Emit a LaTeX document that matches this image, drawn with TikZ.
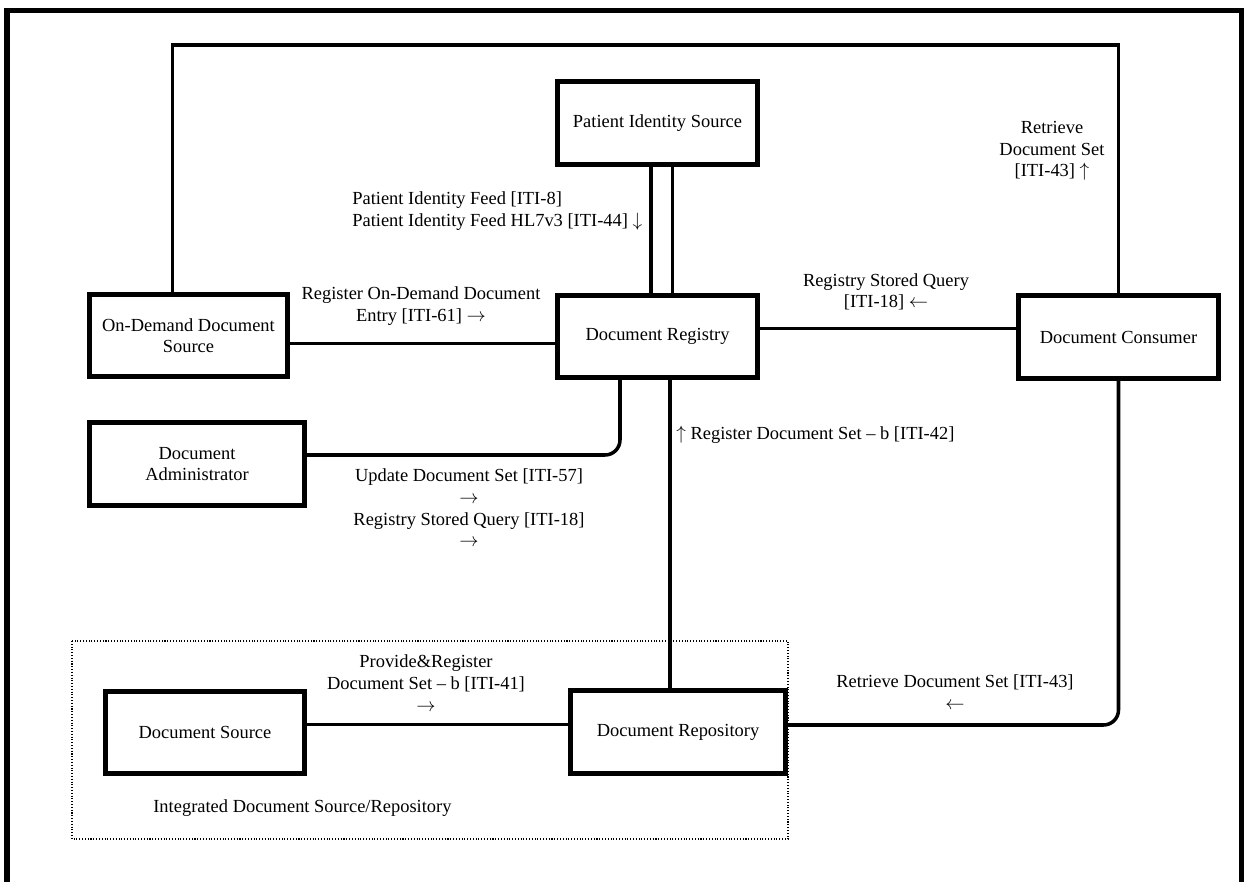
\documentclass[tikz,border=0pt]{standalone}
\usepackage{fontspec}
\setmainfont{Liberation Serif}
\begin{document}
\begin{tikzpicture}[x=0.02cm,y=-0.02cm,
  font=\fontsize{10.5}{12.3}\selectfont,
  actor/.style={draw,line width=2.85pt,minimum height=1.65cm,align=center,inner sep=0pt},
  link/.style={line width=2pt},
  lbl/.style={inner sep=0pt,align=center}]
\useasboundingbox (0,0) rectangle (1249,882);
\draw [line width=3pt] (7,882) -- (7,10.5) -- (1241.5,10.5) -- (1241.5,882); % frame
\draw [densely dotted,line width=0.6pt] (72,641) rectangle (788,839); % integrated

\node [actor,minimum width=4cm]    (pis)  at (657.5,123)   {Patient Identity Source};
\node [actor,minimum width=3.96cm] (ods)  at (188.5,335.5) {On-Demand Document\\Source};
\node [actor,minimum width=4cm]    (reg)  at (657.5,336.5) {Document Registry};
\node [actor,minimum width=4cm]    (cons) at (1118.5,337)  {Document Consumer};
\node [actor,minimum width=4.3cm]  (adm)  at (197,464)     {Document\\Administrator};
\node [actor,minimum width=3.98cm] (src)  at (205,732.5)   {Document Source};
\node [actor,minimum width=4.3cm]  (repo) at (678,732)     {Document Repository};

\draw [link] (ods.north -| 172.5,0) -- (172.5,45) -| (cons.north);
\draw [link] (pis.south -| 651,0) -- (reg.north -| 651,0);
\draw [link] (pis.south -| 672.5,0) -- (reg.north -| 672.5,0);
\draw [link] (ods.east |- 0,343.5) -- (reg.west |- 0,343.5);
\draw [link] (reg.east |- 0,328.5) -- (cons.west |- 0,328.5);
\draw [link,rounded corners=0.3cm] (adm.east |- 0,455) -| (reg.south -| 620,0);
\draw [link] (reg.south -| 670,0) -- (repo.north -| 670,0);
\draw [link,rounded corners=0.3cm] (cons.south) |- (repo.east |- 0,725);
\draw [link] (src.east |- 0,724.5) -- (repo.west |- 0,724.5);

\node [lbl,anchor=west,align=left] (pif) at (352,211) {Patient Identity Feed {[}ITI-8]\\Patient Identity Feed HL7v3 {[}ITI-44] $\downarrow$};
\node [lbl] (rodd) at (421,306) {Register On-Demand Document\\Entry {[}ITI-61] $\rightarrow$};
\node [lbl] (rsq)  at (886,292) {Registry Stored Query\\{[}ITI-18] $\leftarrow$};
\node [lbl] (rds)  at (1052,151) {Retrieve\\Document Set\\{[}ITI-43] $\uparrow$};
\node [lbl,anchor=west] (rdsb) at (676,435) {$\uparrow$ Register Document Set – b {[}ITI-42]};
\node [lbl] (upd)  at (469,508) {Update Document Set {[}ITI-57]\\$\rightarrow$\\Registry Stored Query {[}ITI-18]\\$\rightarrow$};
\node [lbl] (pnr)  at (426,683) {Provide\&Register\\Document Set – b {[}ITI-41]\\$\rightarrow$};
\node [lbl] (rdsr) at (955,692) {Retrieve Document Set {[}ITI-43]\\$\leftarrow$};
\node [lbl,anchor=west] (idsr) at (153,808) {Integrated Document Source/Repository};
\end{tikzpicture}
\end{document}
